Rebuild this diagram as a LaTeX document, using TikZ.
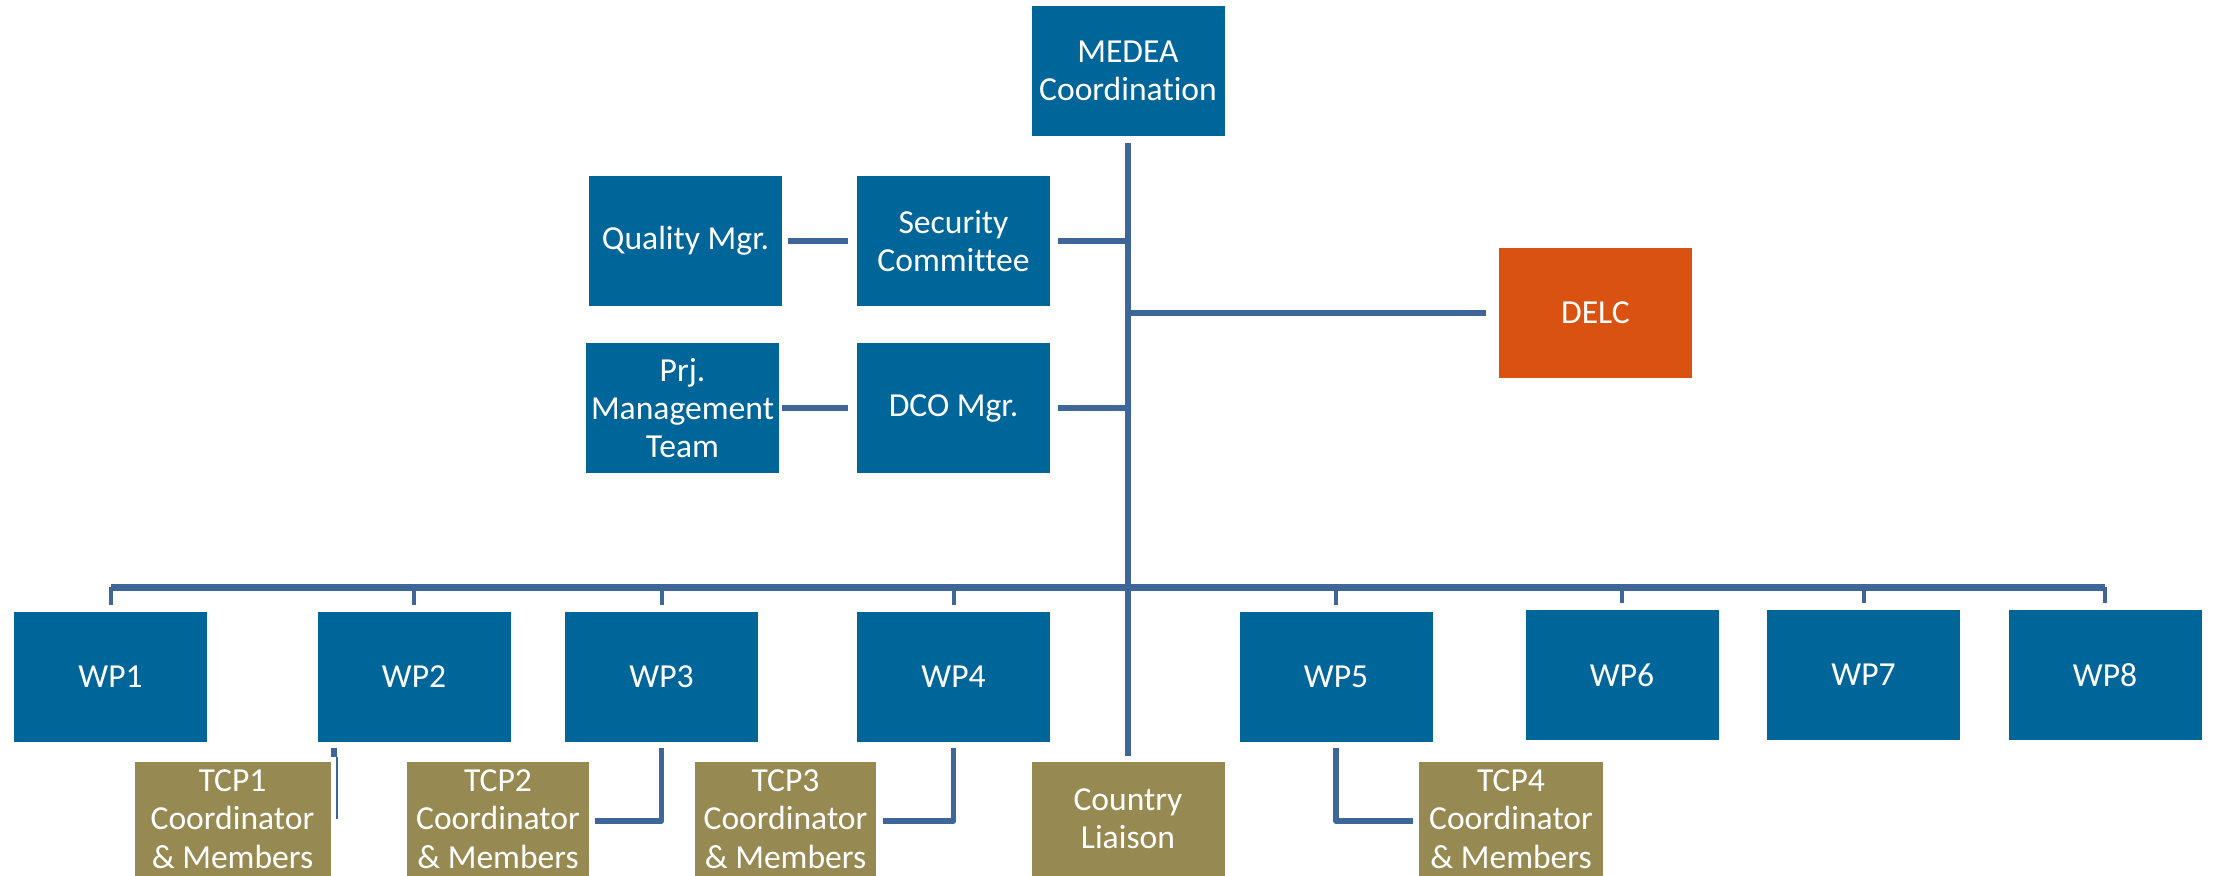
\documentclass[tikz,border=0pt]{standalone}
\usepackage{fontspec}
\setmainfont{Carlito}[Ligatures=CommonOff]
\usetikzlibrary{calc}
\definecolor{boxblue}{RGB}{0,102,153}
\definecolor{linecol}{RGB}{63,102,152}
\definecolor{delcorange}{RGB}{217,82,18}
\definecolor{olive}{RGB}{150,138,82}
\tikzset{
  unit/.style={rectangle, inner sep=0pt, text=white, align=center,
    font=\fontsize{16.8pt}{19.2pt}\selectfont},
  bluebox/.style={unit, fill=boxblue, minimum width=96.5pt, minimum height=65pt},
  orangebox/.style={unit, fill=delcorange, minimum width=96.5pt, minimum height=65pt},
  olivebox/.style={unit, fill=olive, minimum height=57pt},
  conn/.style={draw=linecol, line width=2.6pt},
  trunkline/.style={draw=linecol, line width=3.3pt},
  busline/.style={draw=linecol, line width=3.5pt},
  dropline/.style={draw=linecol, line width=2pt},
  elbow/.style={draw=linecol, line width=2.8pt, line join=round},
}
\begin{document}
\begin{tikzpicture}[x=0.5pt,y=-0.5pt]
\useasboundingbox (0,0) rectangle (2213,875);
\clip (0,0) rectangle (2213,875);
% top part
\node[bluebox] (medea) at (1128,71) {MEDEA\\Coordination};
\node[bluebox] (qual) at (685.5,241) {Quality Mgr.};
\node[bluebox] (sec) at (953.5,241) {Security\\Committee};
\node[bluebox] (prj) at (682.5,408) {Prj.\\Management\\Team};
\node[bluebox] (dco) at (953.5,408) {DCO Mgr.};
\node[orangebox] (delc) at (1595.5,313) {DELC};
% WPs
\node[bluebox] (wp1) at (110.5,677) {WP1};
\node[bluebox] (wp2) at (414,677) {WP2};
\node[bluebox] (wp3) at (661.5,677) {WP3};
\node[bluebox] (wp4) at (953.5,677) {WP4};
\node[bluebox] (wp5) at (1336,677) {WP5};
\node[bluebox] (wp6) at (1622,675) {WP6};
\node[bluebox] (wp7) at (1863.5,675) {WP7};
\node[bluebox] (wp8) at (2105,675) {WP8};
% bottom olive boxes
\node[olivebox, minimum width=98pt] (tcp1) at (232.5,819) {TCP1\\Coordinator\\\& Members};
\node[olivebox, minimum width=91pt] (tcp2) at (498,819) {TCP2\\Coordinator\\\& Members};
\node[olivebox, minimum width=90.5pt] (tcp3) at (785.5,819) {TCP3\\Coordinator\\\& Members};
\node[olivebox, minimum width=96.5pt] (country) at (1128,819) {Country\\Liaison};
\node[olivebox, minimum width=92pt] (tcp4) at (1511,819) {TCP4\\Coordinator\\\& Members};
% bus reference
\coordinate (bus) at (1128,587);
% trunk
\draw[trunkline] ($(medea.south)+(0,7)$) -- ($(country.north)+(0,-6)$);
% side connectors
\draw[conn] ($(qual.east)+(6,0)$) -- ($(sec.west)+(-9,0)$);
\draw[conn] ($(sec.east)+(8,0)$) -- (sec.east -| bus);
\draw[conn] ($(prj.east)+(3,0)$) -- ($(dco.west)+(-9,0)$);
\draw[conn] ($(dco.east)+(8,0)$) -- (dco.east -| bus);
\draw[conn] (delc.west -| bus) -- ($(delc.west)+(-13,0)$);
% bus
\draw[busline] (wp1.north |- bus) -- (wp8.north |- bus);
\foreach \w in {wp1,wp2,wp3,wp4,wp5,wp6,wp7,wp8}{
  \draw[dropline] (\w.north |- bus) -- ($(\w.north)+(0,-7)$);
}
% WP to TCP elbows
\draw[elbow] ($(wp3.south)+(0,6)$) |- ($(tcp2.east)+(6,2)$);
\draw[elbow] ($(wp4.south)+(0,6)$) |- ($(tcp3.east)+(7,2)$);
\draw[elbow] ($(wp5.south)+(0,6)$) |- ($(tcp4.west)+(-6,2)$);
% WP2 stub
\coordinate (stub) at ($(tcp1.north east)+(3,-14)$);
\draw[draw=linecol, line width=2.8pt] (stub) -- ++(0,9);
\draw[draw=linecol, line width=0.6pt] ($(stub)+(3,9)$) -- ++(0,62);
\end{tikzpicture}
\end{document}
